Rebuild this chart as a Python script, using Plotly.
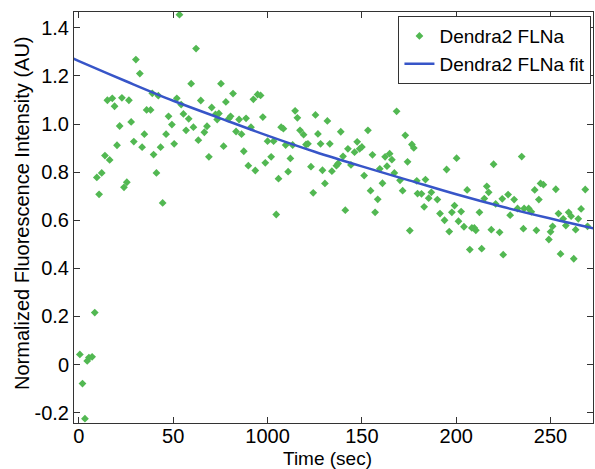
import plotly.graph_objects as go

# Measured points (Time in sec, normalized intensity)
time_sec = [
    0.5, 1.9, 3.2, 4.4, 5.3, 7.0, 8.4, 9.5, 10.7, 12.1, 13.8, 15.1, 16.3, 17.7, 18.9,
    20.2, 21.6, 22.8, 23.9, 25.4, 26.5, 27.7, 29.1, 30.2, 32.3, 33.5, 34.7, 35.9, 38.0,
    38.9, 39.6, 41.1, 42.1, 43.3, 44.4, 46.2, 47.5, 49.3, 50.5, 51.9, 53.3, 54.2, 55.4,
    56.8, 58.2, 59.5, 60.7, 62.1, 63.3, 64.6, 66.5, 67.9, 68.9, 70.4, 72.4, 73.3, 74.2,
    75.3, 76.7, 77.9, 79.5, 80.4, 81.7, 83.3, 84.9, 86.2, 87.4, 88.6, 89.8, 91.2, 92.5,
    93.5, 94.7, 96.3, 97.5, 98.8, 100.0, 101.9, 103.2, 104.6, 105.8, 107.2, 108.4, 109.6,
    110.9, 112.1, 113.3, 114.6, 115.8, 117.2, 119.1, 120.4, 121.4, 123.0, 124.2, 125.4,
    126.7, 128.1, 129.1, 130.4, 131.7, 133.0, 134.1, 136.5, 137.4, 138.8, 140.0, 141.2,
    142.6, 144.2, 146.1, 147.5, 148.8, 150.0, 151.2, 153.2, 154.6, 155.6, 157.0, 158.4,
    159.5, 160.9, 162.3, 163.3, 164.7, 165.9, 167.2, 168.4, 170.2, 171.6, 173.0, 174.2,
    175.4, 176.5, 177.5, 179.1, 179.5, 181.6, 183.0, 183.7, 185.4, 186.8, 190.0, 191.4,
    193.8, 194.9, 196.3, 197.7, 199.1, 200.2, 201.2, 202.6, 204.1, 205.8, 207.2, 208.3,
    209.6, 210.4, 212.3, 213.5, 214.9, 216.2, 217.2, 218.6, 219.8, 220.9, 223.0, 224.4,
    224.9, 227.5, 228.6, 230.7, 232.5, 234.7, 235.6, 236.0, 238.4, 239.8, 241.6, 242.5,
    243.8, 244.7, 246.2, 249.1, 250.0, 251.1, 252.8, 254.2, 255.3, 256.7, 258.1, 259.6,
    260.9, 262.3, 263.3, 264.7, 266.2, 268.4, 269.6,
]
intensity = [
    0.042, -0.079, -0.225, 0.015, 0.029, 0.032, 0.216, 0.778, 0.708, 0.797, 0.869, 1.099,
    0.851, 1.107, 1.074, 0.912, 0.992, 1.109, 0.737, 0.758, 1.099, 1.009, 0.927, 1.268,
    1.210, 0.904, 0.958, 1.059, 1.059, 1.128, 0.873, 0.797, 1.118, 0.904, 0.672, 0.958,
    1.032, 0.998, 0.918, 1.107, 1.455, 1.081, 1.042, 0.974, 1.022, 1.168, 0.987, 1.314,
    0.933, 1.098, 0.966, 0.991, 0.864, 1.069, 1.040, 1.019, 1.044, 1.168, 0.908, 1.092,
    1.023, 1.032, 1.127, 0.969, 1.019, 0.958, 0.887, 1.024, 0.827, 0.987, 1.103, 0.807,
    1.123, 1.119, 1.029, 0.839, 0.929, 0.864, 0.929, 0.624, 0.773, 0.987, 0.981, 0.913,
    0.802, 0.857, 0.913, 1.055, 1.026, 0.974, 0.956, 0.915, 0.918, 0.823, 0.714, 1.038,
    0.959, 0.918, 0.808, 0.753, 1.013, 0.918, 0.804, 0.827, 0.836, 0.968, 0.866, 0.642,
    0.897, 0.830, 0.883, 0.926, 0.897, 0.905, 0.786, 0.974, 0.723, 0.872, 0.633, 0.687,
    0.814, 0.754, 0.864, 0.825, 0.877, 0.852, 0.797, 1.053, 0.766, 0.723, 0.953, 0.843,
    0.557, 0.915, 0.901, 0.764, 0.711, 0.710, 0.656, 0.769, 0.692, 0.716, 0.686, 0.628,
    0.600, 0.811, 0.553, 0.633, 0.661, 0.858, 0.596, 0.636, 0.573, 0.726, 0.478, 0.568,
    0.568, 0.558, 0.633, 0.482, 0.690, 0.741, 0.716, 0.561, 0.833, 0.668, 0.550, 0.689,
    0.457, 0.707, 0.621, 0.686, 0.649, 0.865, 0.565, 0.649, 0.649, 0.635, 0.726, 0.558,
    0.686, 0.753, 0.748, 0.520, 0.552, 0.575, 0.729, 0.628, 0.460, 0.606, 0.578, 0.633,
    0.617, 0.440, 0.561, 0.606, 0.647, 0.728, 0.575,
]

# Fit curve
fit_time = [-3, 0, 25, 50, 75, 100, 125, 150, 175, 200, 225, 250, 275]
fit_value = [1.272, 1.262, 1.178, 1.097, 1.024, 0.952, 0.885, 0.824, 0.766, 0.708, 0.655, 0.607, 0.562]

x_tickvals = [0, 50, 100, 150, 200, 250]
x_ticktext = ["0", "50", "1000", "150", "200", "250"]
y_tickvals = [-0.2, 0, 0.2, 0.4, 0.6, 0.8, 1.0, 1.2, 1.4]
y_ticktext = ["-0.2", "0", "0.2", "0.4", "0.6", "0.8", "1.0", "1.2", "1.4"]

x_title = "Time (sec)"
y_title = "Normalized Fluorescence Intensity (AU)"

FONT = "Liberation Sans, Arial, sans-serif"

fig = go.Figure()
fig.add_trace(go.Scatter(
    x=time_sec, y=intensity, mode="markers", name="Dendra2 FLNa",
    marker=dict(symbol="diamond", size=6, color="rgb(82,184,82)", line=dict(width=0)),
))
fig.add_trace(go.Scatter(
    x=fit_time, y=fit_value, mode="lines", name="Dendra2 FLNa fit",
    line=dict(color="rgb(55,85,200)", width=2.5, shape="spline"),
))

axis_common = dict(
    showline=True, linecolor="#333333", linewidth=1, mirror="ticks",
    ticks="inside", ticklen=6, tickcolor="#333333", showgrid=False, zeroline=False,
    automargin=False,
    tickfont=dict(family=FONT, size=20, color="black"),
)

fig.update_layout(
    width=595, height=469,
    margin=dict(l=74, r=2, t=12, b=46, autoexpand=False),
    paper_bgcolor="white", plot_bgcolor="white",
    font=dict(family=FONT, size=20, color="black"),
    showlegend=True,
    legend=dict(
        x=0.997, y=0.99, xanchor="right", yanchor="top",
        bgcolor="white", bordercolor="#333333", borderwidth=1,
        font=dict(family=FONT, size=19, color="black"),
        tracegroupgap=0, itemwidth=30,
    ),
    xaxis=dict(range=[-2.6, 272.5], tickvals=x_tickvals, ticktext=x_ticktext,
               ticklabelstandoff=-5, **axis_common),
    yaxis=dict(range=[-0.243, 1.466], tickvals=y_tickvals, ticktext=y_ticktext, **axis_common),
    annotations=[
        dict(text=x_title, xref="paper", yref="paper", x=0.488, y=-0.0852,
             xanchor="center", yanchor="middle", showarrow=False, borderpad=0,
             font=dict(family=FONT, size=19, color="black")),
        dict(text=y_title, xref="paper", yref="paper", x=-0.1002, y=0.511,
             xanchor="center", yanchor="middle", showarrow=False, textangle=-90,
             font=dict(family=FONT, size=20, color="black")),
    ],
)

fig.write_html(
    "out.html",
    config={"displayModeBar": False},
    post_script="document.body.style.margin='0';document.body.style.overflow='hidden';",
)
